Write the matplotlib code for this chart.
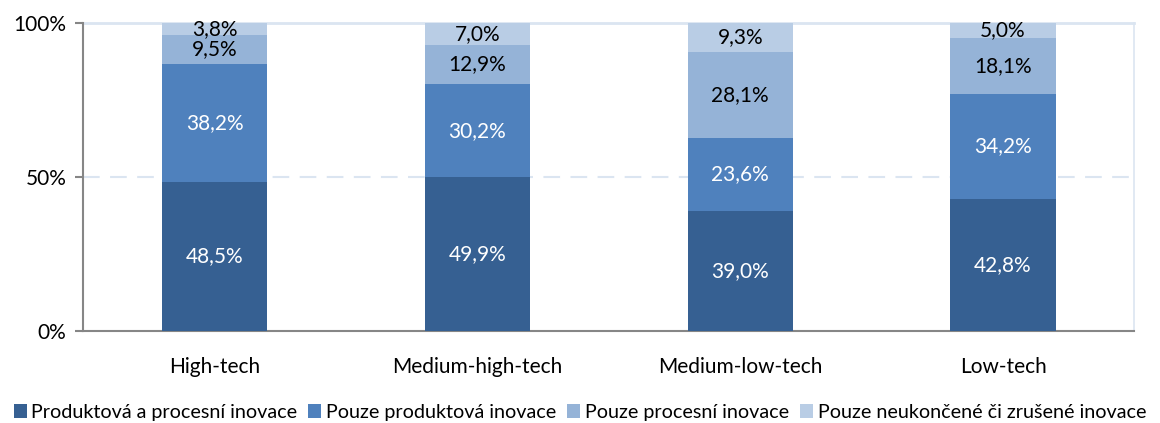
import matplotlib.pyplot as plt
import numpy as np

plt.rcParams['font.family'] = ['Lato', 'DejaVu Sans']

categories = ["High-tech", "Medium-high-tech", "Medium-low-tech", "Low-tech"]
series_names = ["Produktová a procesní inovace", "Pouze produktová inovace",
                "Pouze procesní inovace", "Pouze neukončené či zrušené inovace"]
prod_proc = [48.5, 49.9, 39.0, 42.8]
prod_only = [38.2, 30.2, 23.6, 34.2]
proc_only = [9.5, 12.9, 28.1, 18.1]
unfinished = [3.8, 7.0, 9.3, 5.0]

colors = ["#366092", "#4f81bd", "#95b3d7", "#b9cde5"]
text_colors = ["white", "white", "black", "black"]

fig = plt.figure(figsize=(11.6, 4.23), dpi=100)
ax = fig.add_axes([0.0716, 0.2175, 0.9064, 0.728])

x = np.arange(len(categories))
bottom = np.zeros(len(categories))
for vals, name, col, tcol in zip([prod_proc, prod_only, proc_only, unfinished],
                                 series_names, colors, text_colors):
    vals = np.array(vals)
    ax.bar(x, vals, 0.4, bottom=bottom, color=col, label=name, zorder=3)
    for xi, b, v in zip(x, bottom, vals):
        ax.text(xi, b + v / 2, f"{v:.1f}%".replace(".", ","), ha="center", va="center",
                color=tcol, fontsize=15, zorder=4)
    bottom = bottom + vals

ax.set_xlim(-0.5, 3.5)
ax.set_ylim(0, 100)
ax.set_yticks([0, 50, 100])
ax.set_yticklabels(["0%", "50%", "100%"], fontsize=15)
ax.set_xticks(x)
ax.set_xticklabels(categories, fontsize=15)
ax.tick_params(axis="x", length=0, pad=19)
ax.tick_params(axis="y", length=6, color="#868686", width=1.5, pad=6)

ax.axhline(50, color="#dbe5f1", lw=1.5, ls=(0, (8, 5)), zorder=1)
ax.axhline(100, color="#dbe5f1", lw=2, zorder=1, clip_on=False)

for s in ["left", "bottom"]:
    ax.spines[s].set_color("#868686")
    ax.spines[s].set_linewidth(1.5)
ax.spines["top"].set_visible(False)
ax.spines["right"].set_color("#dbe5f1")
ax.spines["right"].set_linewidth(1.2)

fig.legend(loc="lower center", bbox_to_anchor=(0.5, -0.037), ncol=4, frameon=False,
           fontsize=14.2, handlelength=0.65, handleheight=0.65, handletextpad=0.25,
           columnspacing=0.55)

fig.savefig("out.png", dpi=100)
